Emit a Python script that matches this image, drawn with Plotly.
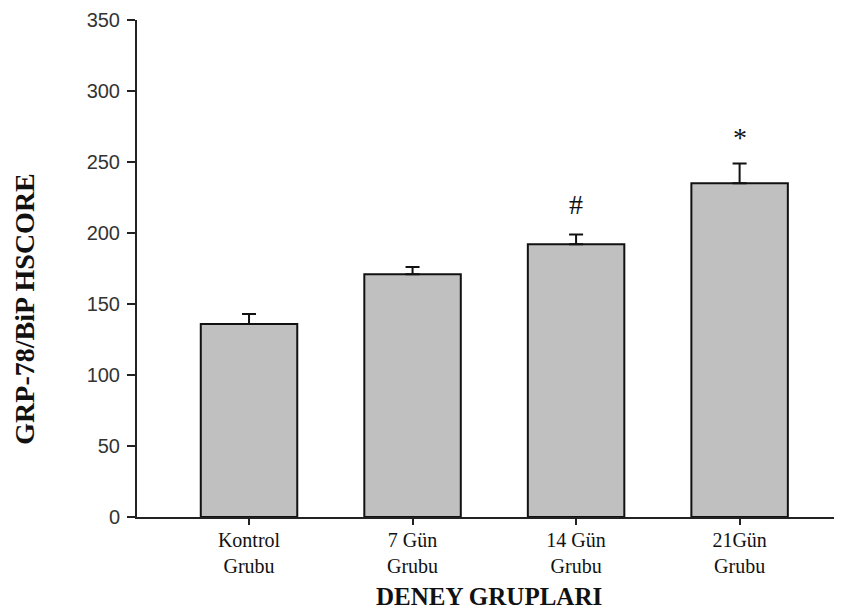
import plotly.graph_objects as go

groups = ["Kontrol<br>Grubu", "7 Gün<br>Grubu", "14 Gün<br>Grubu", "21Gün<br>Grubu"]
hscore = [136, 171, 192, 235]
sem = [7, 5, 7, 14]
marks = ["", "", "#", "*"]
mark_y = [None, None, 220, 267]
yticks = [0, 50, 100, 150, 200, 250, 300, 350]

OFF = 8  # page body margin
W, H = 842 - OFF, 615 - OFF
L, R, T = 137 - OFF, 1, 16 - OFF
plot_bottom = 517 - OFF
B = H - plot_bottom
pw, ph = W - L - R, H - T - B


def px_x(page_x):
    return (page_x - OFF - L) / pw


def px_y(page_y):
    return (plot_bottom - (page_y - OFF)) / ph


x = list(range(len(groups)))

fig = go.Figure()
fig.add_trace(go.Bar(
    x=x, y=hscore, width=0.59,
    marker=dict(color="#c0c0c0", line=dict(color="#111111", width=2)),
    error_y=dict(type="data", array=sem, arrayminus=[0]*len(sem), symmetric=False,
                 color="#111111", thickness=2, width=7),
    showlegend=False,
))

annots = []
for i, (m, my) in enumerate(zip(marks, mark_y)):
    if m:
        annots.append(dict(x=i, y=my, xref="x", yref="y", text=m, showarrow=False,
                           font=dict(family="Liberation Serif", size=28, color="#111111"),
                           xanchor="center", yanchor="middle"))

annots.append(dict(xref="paper", yref="paper", x=px_x(489), y=px_y(597),
                   text="<b>DENEY GRUPLARI</b>", showarrow=False,
                   xanchor="center", yanchor="middle",
                   font=dict(family="Liberation Serif", size=25, color="#111111")))
annots.append(dict(xref="paper", yref="paper", x=px_x(25), y=px_y(308),
                   text="<b>GRP-78/BiP HSCORE</b>", showarrow=False, textangle=-90,
                   xanchor="center", yanchor="middle",
                   font=dict(family="Liberation Serif", size=28, color="#111111")))

fig.update_layout(
    width=W, height=H,
    margin=dict(l=L, r=R, t=T, b=B, pad=0),
    paper_bgcolor="white", plot_bgcolor="white",
    annotations=annots,
    xaxis=dict(
        range=[-0.685, 3.62], tickvals=x, ticktext=groups,
        showline=True, linecolor="#222222", linewidth=2,
        ticks="outside", ticklen=6, tickwidth=2, tickcolor="#222222",
        showgrid=False, zeroline=False,
        ticklabelstandoff=-2,
        tickfont=dict(family="Liberation Serif", size=20, color="#111111"),
    ),
    yaxis=dict(
        range=[0, 350], tickvals=yticks,
        showline=True, linecolor="#222222", linewidth=2,
        ticks="outside", ticklen=8, tickwidth=2, tickcolor="#222222",
        showgrid=False, zeroline=False,
        ticklabelstandoff=3, ticklabeloverflow="allow",
        tickfont=dict(family="Liberation Sans", size=20, color="#333333"),
    ),
)

fig.write_html("out.html")
